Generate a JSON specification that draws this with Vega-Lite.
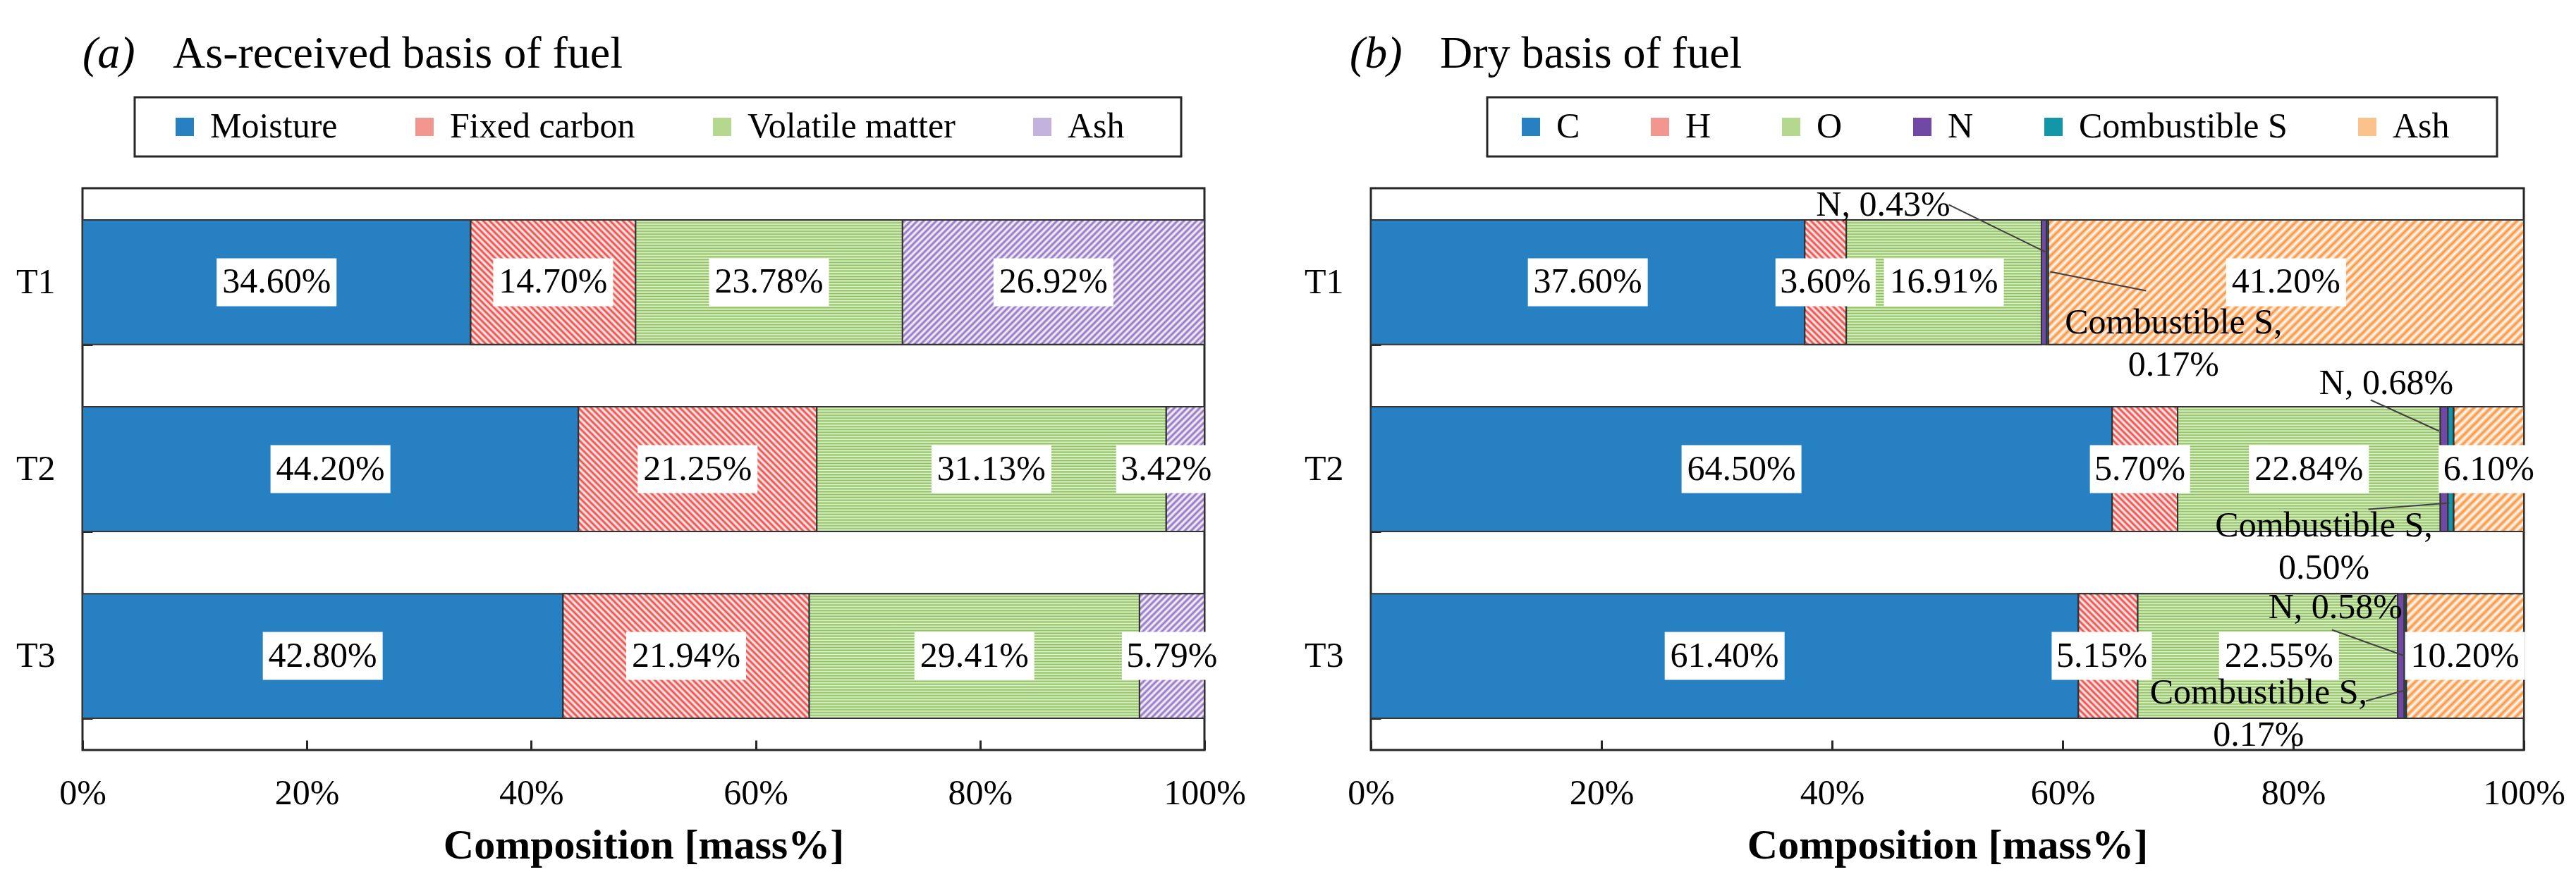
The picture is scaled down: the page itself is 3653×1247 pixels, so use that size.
{
  "$schema": "https://vega.github.io/schema/vega-lite/v6.json",
  "background": "white",
  "padding": {"left": 20, "top": 43, "right": 18, "bottom": 20},
  "params": [
    {
      "name": "stripe",
      "value": {
        "gradient": "linear", "x1": 0, "y1": 0, "x2": 0.000001, "y2": 1,
        "stops": [
          {"offset": 0, "color": "#86bf50"}, {"offset": 0.0114, "color": "#e6f2da"},
          {"offset": 0.0227, "color": "#86bf50"}, {"offset": 0.0341, "color": "#e6f2da"},
          {"offset": 0.0455, "color": "#86bf50"}, {"offset": 0.0568, "color": "#e6f2da"},
          {"offset": 0.0682, "color": "#86bf50"}, {"offset": 0.0795, "color": "#e6f2da"},
          {"offset": 0.0909, "color": "#86bf50"}, {"offset": 0.1023, "color": "#e6f2da"},
          {"offset": 0.1136, "color": "#86bf50"}, {"offset": 0.125, "color": "#e6f2da"},
          {"offset": 0.1364, "color": "#86bf50"}, {"offset": 0.1477, "color": "#e6f2da"},
          {"offset": 0.1591, "color": "#86bf50"}, {"offset": 0.1705, "color": "#e6f2da"},
          {"offset": 0.1818, "color": "#86bf50"}, {"offset": 0.1932, "color": "#e6f2da"},
          {"offset": 0.2045, "color": "#86bf50"}, {"offset": 0.2159, "color": "#e6f2da"},
          {"offset": 0.2273, "color": "#86bf50"}, {"offset": 0.2386, "color": "#e6f2da"},
          {"offset": 0.25, "color": "#86bf50"}, {"offset": 0.2614, "color": "#e6f2da"},
          {"offset": 0.2727, "color": "#86bf50"}, {"offset": 0.2841, "color": "#e6f2da"},
          {"offset": 0.2955, "color": "#86bf50"}, {"offset": 0.3068, "color": "#e6f2da"},
          {"offset": 0.3182, "color": "#86bf50"}, {"offset": 0.3295, "color": "#e6f2da"},
          {"offset": 0.3409, "color": "#86bf50"}, {"offset": 0.3523, "color": "#e6f2da"},
          {"offset": 0.3636, "color": "#86bf50"}, {"offset": 0.375, "color": "#e6f2da"},
          {"offset": 0.3864, "color": "#86bf50"}, {"offset": 0.3977, "color": "#e6f2da"},
          {"offset": 0.4091, "color": "#86bf50"}, {"offset": 0.4205, "color": "#e6f2da"},
          {"offset": 0.4318, "color": "#86bf50"}, {"offset": 0.4432, "color": "#e6f2da"},
          {"offset": 0.4545, "color": "#86bf50"}, {"offset": 0.4659, "color": "#e6f2da"},
          {"offset": 0.4773, "color": "#86bf50"}, {"offset": 0.4886, "color": "#e6f2da"},
          {"offset": 0.5, "color": "#86bf50"}, {"offset": 0.5114, "color": "#e6f2da"},
          {"offset": 0.5227, "color": "#86bf50"}, {"offset": 0.5341, "color": "#e6f2da"},
          {"offset": 0.5455, "color": "#86bf50"}, {"offset": 0.5568, "color": "#e6f2da"},
          {"offset": 0.5682, "color": "#86bf50"}, {"offset": 0.5795, "color": "#e6f2da"},
          {"offset": 0.5909, "color": "#86bf50"}, {"offset": 0.6023, "color": "#e6f2da"},
          {"offset": 0.6136, "color": "#86bf50"}, {"offset": 0.625, "color": "#e6f2da"},
          {"offset": 0.6364, "color": "#86bf50"}, {"offset": 0.6477, "color": "#e6f2da"},
          {"offset": 0.6591, "color": "#86bf50"}, {"offset": 0.6705, "color": "#e6f2da"},
          {"offset": 0.6818, "color": "#86bf50"}, {"offset": 0.6932, "color": "#e6f2da"},
          {"offset": 0.7045, "color": "#86bf50"}, {"offset": 0.7159, "color": "#e6f2da"},
          {"offset": 0.7273, "color": "#86bf50"}, {"offset": 0.7386, "color": "#e6f2da"},
          {"offset": 0.75, "color": "#86bf50"}, {"offset": 0.7614, "color": "#e6f2da"},
          {"offset": 0.7727, "color": "#86bf50"}, {"offset": 0.7841, "color": "#e6f2da"},
          {"offset": 0.7955, "color": "#86bf50"}, {"offset": 0.8068, "color": "#e6f2da"},
          {"offset": 0.8182, "color": "#86bf50"}, {"offset": 0.8295, "color": "#e6f2da"},
          {"offset": 0.8409, "color": "#86bf50"}, {"offset": 0.8523, "color": "#e6f2da"},
          {"offset": 0.8636, "color": "#86bf50"}, {"offset": 0.875, "color": "#e6f2da"},
          {"offset": 0.8864, "color": "#86bf50"}, {"offset": 0.8977, "color": "#e6f2da"},
          {"offset": 0.9091, "color": "#86bf50"}, {"offset": 0.9205, "color": "#e6f2da"},
          {"offset": 0.9318, "color": "#86bf50"}, {"offset": 0.9432, "color": "#e6f2da"},
          {"offset": 0.9545, "color": "#86bf50"}, {"offset": 0.9659, "color": "#e6f2da"},
          {"offset": 0.9773, "color": "#86bf50"}, {"offset": 0.9886, "color": "#e6f2da"},
          {"offset": 1, "color": "#86bf50"}
        ]
      }
    },
    {
      "name": "hatch",
      "value": [
        {"offset": 0, "color": "#fff"}, {"offset": 0.0069, "color": "#fff0"},
        {"offset": 0.0139, "color": "#fff"}, {"offset": 0.0208, "color": "#fff0"},
        {"offset": 0.0278, "color": "#fff"}, {"offset": 0.0347, "color": "#fff0"},
        {"offset": 0.0417, "color": "#fff"}, {"offset": 0.0486, "color": "#fff0"},
        {"offset": 0.0556, "color": "#fff"}, {"offset": 0.0625, "color": "#fff0"},
        {"offset": 0.0694, "color": "#fff"}, {"offset": 0.0764, "color": "#fff0"},
        {"offset": 0.0833, "color": "#fff"}, {"offset": 0.0903, "color": "#fff0"},
        {"offset": 0.0972, "color": "#fff"}, {"offset": 0.1042, "color": "#fff0"},
        {"offset": 0.1111, "color": "#fff"}, {"offset": 0.1181, "color": "#fff0"},
        {"offset": 0.125, "color": "#fff"}, {"offset": 0.1319, "color": "#fff0"},
        {"offset": 0.1389, "color": "#fff"}, {"offset": 0.1458, "color": "#fff0"},
        {"offset": 0.1528, "color": "#fff"}, {"offset": 0.1597, "color": "#fff0"},
        {"offset": 0.1667, "color": "#fff"}, {"offset": 0.1736, "color": "#fff0"},
        {"offset": 0.1806, "color": "#fff"}, {"offset": 0.1875, "color": "#fff0"},
        {"offset": 0.1944, "color": "#fff"}, {"offset": 0.2014, "color": "#fff0"},
        {"offset": 0.2083, "color": "#fff"}, {"offset": 0.2153, "color": "#fff0"},
        {"offset": 0.2222, "color": "#fff"}, {"offset": 0.2292, "color": "#fff0"},
        {"offset": 0.2361, "color": "#fff"}, {"offset": 0.2431, "color": "#fff0"},
        {"offset": 0.25, "color": "#fff"}, {"offset": 0.2569, "color": "#fff0"},
        {"offset": 0.2639, "color": "#fff"}, {"offset": 0.2708, "color": "#fff0"},
        {"offset": 0.2778, "color": "#fff"}, {"offset": 0.2847, "color": "#fff0"},
        {"offset": 0.2917, "color": "#fff"}, {"offset": 0.2986, "color": "#fff0"},
        {"offset": 0.3056, "color": "#fff"}, {"offset": 0.3125, "color": "#fff0"},
        {"offset": 0.3194, "color": "#fff"}, {"offset": 0.3264, "color": "#fff0"},
        {"offset": 0.3333, "color": "#fff"}, {"offset": 0.3403, "color": "#fff0"},
        {"offset": 0.3472, "color": "#fff"}, {"offset": 0.3542, "color": "#fff0"},
        {"offset": 0.3611, "color": "#fff"}, {"offset": 0.3681, "color": "#fff0"},
        {"offset": 0.375, "color": "#fff"}, {"offset": 0.3819, "color": "#fff0"},
        {"offset": 0.3889, "color": "#fff"}, {"offset": 0.3958, "color": "#fff0"},
        {"offset": 0.4028, "color": "#fff"}, {"offset": 0.4097, "color": "#fff0"},
        {"offset": 0.4167, "color": "#fff"}, {"offset": 0.4236, "color": "#fff0"},
        {"offset": 0.4306, "color": "#fff"}, {"offset": 0.4375, "color": "#fff0"},
        {"offset": 0.4444, "color": "#fff"}, {"offset": 0.4514, "color": "#fff0"},
        {"offset": 0.4583, "color": "#fff"}, {"offset": 0.4653, "color": "#fff0"},
        {"offset": 0.4722, "color": "#fff"}, {"offset": 0.4792, "color": "#fff0"},
        {"offset": 0.4861, "color": "#fff"}, {"offset": 0.4931, "color": "#fff0"},
        {"offset": 0.5, "color": "#fff"}, {"offset": 0.5069, "color": "#fff0"},
        {"offset": 0.5139, "color": "#fff"}, {"offset": 0.5208, "color": "#fff0"},
        {"offset": 0.5278, "color": "#fff"}, {"offset": 0.5347, "color": "#fff0"},
        {"offset": 0.5417, "color": "#fff"}, {"offset": 0.5486, "color": "#fff0"},
        {"offset": 0.5556, "color": "#fff"}, {"offset": 0.5625, "color": "#fff0"},
        {"offset": 0.5694, "color": "#fff"}, {"offset": 0.5764, "color": "#fff0"},
        {"offset": 0.5833, "color": "#fff"}, {"offset": 0.5903, "color": "#fff0"},
        {"offset": 0.5972, "color": "#fff"}, {"offset": 0.6042, "color": "#fff0"},
        {"offset": 0.6111, "color": "#fff"}, {"offset": 0.6181, "color": "#fff0"},
        {"offset": 0.625, "color": "#fff"}, {"offset": 0.6319, "color": "#fff0"},
        {"offset": 0.6389, "color": "#fff"}, {"offset": 0.6458, "color": "#fff0"},
        {"offset": 0.6528, "color": "#fff"}, {"offset": 0.6597, "color": "#fff0"},
        {"offset": 0.6667, "color": "#fff"}, {"offset": 0.6736, "color": "#fff0"},
        {"offset": 0.6806, "color": "#fff"}, {"offset": 0.6875, "color": "#fff0"},
        {"offset": 0.6944, "color": "#fff"}, {"offset": 0.7014, "color": "#fff0"},
        {"offset": 0.7083, "color": "#fff"}, {"offset": 0.7153, "color": "#fff0"},
        {"offset": 0.7222, "color": "#fff"}, {"offset": 0.7292, "color": "#fff0"},
        {"offset": 0.7361, "color": "#fff"}, {"offset": 0.7431, "color": "#fff0"},
        {"offset": 0.75, "color": "#fff"}, {"offset": 0.7569, "color": "#fff0"},
        {"offset": 0.7639, "color": "#fff"}, {"offset": 0.7708, "color": "#fff0"},
        {"offset": 0.7778, "color": "#fff"}, {"offset": 0.7847, "color": "#fff0"},
        {"offset": 0.7917, "color": "#fff"}, {"offset": 0.7986, "color": "#fff0"},
        {"offset": 0.8056, "color": "#fff"}, {"offset": 0.8125, "color": "#fff0"},
        {"offset": 0.8194, "color": "#fff"}, {"offset": 0.8264, "color": "#fff0"},
        {"offset": 0.8333, "color": "#fff"}, {"offset": 0.8403, "color": "#fff0"},
        {"offset": 0.8472, "color": "#fff"}, {"offset": 0.8542, "color": "#fff0"},
        {"offset": 0.8611, "color": "#fff"}, {"offset": 0.8681, "color": "#fff0"},
        {"offset": 0.875, "color": "#fff"}, {"offset": 0.8819, "color": "#fff0"},
        {"offset": 0.8889, "color": "#fff"}, {"offset": 0.8958, "color": "#fff0"},
        {"offset": 0.9028, "color": "#fff"}, {"offset": 0.9097, "color": "#fff0"},
        {"offset": 0.9167, "color": "#fff"}, {"offset": 0.9236, "color": "#fff0"},
        {"offset": 0.9306, "color": "#fff"}, {"offset": 0.9375, "color": "#fff0"},
        {"offset": 0.9444, "color": "#fff"}, {"offset": 0.9514, "color": "#fff0"},
        {"offset": 0.9583, "color": "#fff"}, {"offset": 0.9653, "color": "#fff0"},
        {"offset": 0.9722, "color": "#fff"}, {"offset": 0.9792, "color": "#fff0"},
        {"offset": 0.9861, "color": "#fff"}, {"offset": 0.9931, "color": "#fff0"},
        {"offset": 1, "color": "#fff"}
      ]
    },
    {
      "name": "swRed",
      "value": {
        "gradient": "linear", "x1": 0, "y1": 1, "x2": 1, "y2": 0,
        "stops": [
          {"offset": 0, "color": "#ffffff"}, {"offset": 0.0833, "color": "#e9423d"},
          {"offset": 0.1667, "color": "#ffffff"}, {"offset": 0.25, "color": "#e9423d"},
          {"offset": 0.3333, "color": "#ffffff"}, {"offset": 0.4167, "color": "#e9423d"},
          {"offset": 0.5, "color": "#ffffff"}, {"offset": 0.5833, "color": "#e9423d"},
          {"offset": 0.6667, "color": "#ffffff"}, {"offset": 0.75, "color": "#e9423d"},
          {"offset": 0.8333, "color": "#ffffff"}, {"offset": 0.9167, "color": "#e9423d"},
          {"offset": 1, "color": "#ffffff"}
        ]
      }
    },
    {
      "name": "swPurple",
      "value": {
        "gradient": "linear", "x1": 0, "y1": 0, "x2": 1, "y2": 1,
        "stops": [
          {"offset": 0, "color": "#ffffff"}, {"offset": 0.0833, "color": "#8d6bc1"},
          {"offset": 0.1667, "color": "#ffffff"}, {"offset": 0.25, "color": "#8d6bc1"},
          {"offset": 0.3333, "color": "#ffffff"}, {"offset": 0.4167, "color": "#8d6bc1"},
          {"offset": 0.5, "color": "#ffffff"}, {"offset": 0.5833, "color": "#8d6bc1"},
          {"offset": 0.6667, "color": "#ffffff"}, {"offset": 0.75, "color": "#8d6bc1"},
          {"offset": 0.8333, "color": "#ffffff"}, {"offset": 0.9167, "color": "#8d6bc1"},
          {"offset": 1, "color": "#ffffff"}
        ]
      }
    },
    {
      "name": "swOrange",
      "value": {
        "gradient": "linear", "x1": 0, "y1": 0, "x2": 1, "y2": 1,
        "stops": [
          {"offset": 0, "color": "#ffffff"}, {"offset": 0.125, "color": "#f7923a"},
          {"offset": 0.25, "color": "#ffffff"}, {"offset": 0.375, "color": "#f7923a"},
          {"offset": 0.5, "color": "#ffffff"}, {"offset": 0.625, "color": "#f7923a"},
          {"offset": 0.75, "color": "#ffffff"}, {"offset": 0.875, "color": "#f7923a"},
          {"offset": 1, "color": "#ffffff"}
        ]
      }
    },
    {
      "name": "swGreen",
      "value": {
        "gradient": "linear", "x1": 0, "y1": 0, "x2": 0.000001, "y2": 1,
        "stops": [
          {"offset": 0, "color": "#86bf50"}, {"offset": 0.0833, "color": "#e6f2da"},
          {"offset": 0.1667, "color": "#86bf50"}, {"offset": 0.25, "color": "#e6f2da"},
          {"offset": 0.3333, "color": "#86bf50"}, {"offset": 0.4167, "color": "#e6f2da"},
          {"offset": 0.5, "color": "#86bf50"}, {"offset": 0.5833, "color": "#e6f2da"},
          {"offset": 0.6667, "color": "#86bf50"}, {"offset": 0.75, "color": "#e6f2da"},
          {"offset": 0.8333, "color": "#86bf50"}, {"offset": 0.9167, "color": "#e6f2da"},
          {"offset": 1, "color": "#86bf50"}
        ]
      }
    }
  ],
  "datasets": {
    "asReceived": [
      {"sample": "T1", "comp": "Moisture", "value": 34.6},
      {"sample": "T1", "comp": "Fixed carbon", "value": 14.7},
      {"sample": "T1", "comp": "Volatile matter", "value": 23.78},
      {"sample": "T1", "comp": "Ash", "value": 26.92},
      {"sample": "T2", "comp": "Moisture", "value": 44.2},
      {"sample": "T2", "comp": "Fixed carbon", "value": 21.25},
      {"sample": "T2", "comp": "Volatile matter", "value": 31.13},
      {"sample": "T2", "comp": "Ash", "value": 3.42},
      {"sample": "T3", "comp": "Moisture", "value": 42.8},
      {"sample": "T3", "comp": "Fixed carbon", "value": 21.94},
      {"sample": "T3", "comp": "Volatile matter", "value": 29.41},
      {"sample": "T3", "comp": "Ash", "value": 5.79}
    ],
    "dry": [
      {"sample": "T1", "comp": "C", "value": 37.6},
      {"sample": "T1", "comp": "H", "value": 3.6},
      {"sample": "T1", "comp": "O", "value": 16.91},
      {"sample": "T1", "comp": "N", "value": 0.43},
      {"sample": "T1", "comp": "Combustible S", "value": 0.17},
      {"sample": "T1", "comp": "Ash", "value": 41.2},
      {"sample": "T2", "comp": "C", "value": 64.5},
      {"sample": "T2", "comp": "H", "value": 5.7},
      {"sample": "T2", "comp": "O", "value": 22.84},
      {"sample": "T2", "comp": "N", "value": 0.68},
      {"sample": "T2", "comp": "Combustible S", "value": 0.5},
      {"sample": "T2", "comp": "Ash", "value": 6.1},
      {"sample": "T3", "comp": "C", "value": 61.4},
      {"sample": "T3", "comp": "H", "value": 5.15},
      {"sample": "T3", "comp": "O", "value": 22.55},
      {"sample": "T3", "comp": "N", "value": 0.58},
      {"sample": "T3", "comp": "Combustible S", "value": 0.17},
      {"sample": "T3", "comp": "Ash", "value": 10.2}
    ]
  },
  "hconcat": [
    {
      "width": 1591,
      "height": 797,
      "data": {"name": "asReceived"},
      "title": {
        "text": "(a)",
        "subtitle": "\u200b\u00a0\u00a0\u00a0\u00a0\u00a0\u00a0\u00a0\u00a0As-received basis of fuel",
        "anchor": "start",
        "frame": "group",
        "font": "Liberation Serif",
        "fontSize": 64,
        "fontStyle": "italic",
        "fontWeight": "normal",
        "color": "#000000",
        "subtitleFont": "Liberation Serif",
        "subtitleFontSize": 64,
        "subtitleColor": "#000000",
        "subtitlePadding": -64,
        "offset": 28
      },
      "transform": [
        {"calculate": "indexof(['Moisture', 'Fixed carbon', 'Volatile matter', 'Ash'], datum.comp)", "as": "ord"},
        {"stack": "value", "groupby": ["sample"], "sort": [{"field": "ord", "order": "ascending"}], "offset": "normalize", "as": ["v0", "v1"]},
        {"calculate": "(datum.v0 + datum.v1) / 2", "as": "mid"},
        {"calculate": "format(datum.value, '.2f') + '%'", "as": "lbl"}
      ],
      "encoding": {
        "y": {
          "field": "sample",
          "type": "nominal",
          "scale": {"paddingInner": 0.333, "paddingOuter": 0.17},
          "axis": {"title": null, "tickBand": "extent", "tickSize": -14, "labelPadding": 53}
        }
      },
      "layer": [
        {
          "mark": {"type": "bar", "stroke": "#333333", "strokeWidth": 2},
          "encoding": {
            "x": {
              "field": "v0",
              "type": "quantitative",
              "title": "Composition [mass%]",
              "scale": {"domain": [0, 1], "nice": false},
              "axis": {
                "values": [0, 0.2, 0.4, 0.6, 0.8, 1],
                "format": ".0%",
                "tickSize": -14,
                "labelPadding": 50,
                "labelFlush": false,
                "labelOverlap": false,
                "titleFontSize": 60,
                "titleFontWeight": "bold",
                "titlePadding": 20
              }
            },
            "x2": {"field": "v1"},
            "fill": {
              "field": "comp",
              "type": "nominal",
              "scale": {
                "domain": ["Moisture", "Fixed carbon", "Volatile matter", "Ash"],
                "range": ["#2680c2", "#f2968f", "#b5d88f", "#c3b1de"]
              },
              "legend": {
                "orient": "none",
                "legendX": 74,
                "legendY": -129,
                "direction": "horizontal",
                "columns": 4,
                "columnPadding": 98,
                "title": "\u200b\u00a0\u00a0\u00a0\u00a0",
                "titleOrient": "left",
                "titlePadding": 29,
                "labelExpr": "datum.label == 'Ash' ? 'Ash\u00a0\u00a0\u00a0\u00a0\u00a0\u200b' : datum.label",
                "encode": {
                  "symbols": {
                    "update": {
                      "fill": {"signal": "datum.value == 'Fixed carbon' ? swRed : datum.value == 'Volatile matter' ? swGreen : datum.value == 'Ash' ? swPurple : '#2680c2'"}
                    }
                  }
                }
              }
            }
          }
        },
        {
          "transform": [{"filter": "datum.comp == 'Fixed carbon' || datum.comp == 'Ash'"}],
          "mark": {"type": "bar", "fill": {"expr": "datum.comp == 'Fixed carbon' ? '#e9423d' : '#8d6bc1'"}, "stroke": "#333333", "strokeWidth": 2},
          "encoding": {
            "x": {"field": "v0", "type": "quantitative", "title": "Composition [mass%]"},
            "x2": {"field": "v1"}
          }
        },
        {
          "transform": [
            {"filter": "datum.comp == 'Fixed carbon' || datum.comp == 'Ash'"},
            {"calculate": "(datum.v1 - datum.v0) * 1591", "as": "wpx"},
            {"calculate": "648 / (datum.wpx * datum.wpx + 31329)", "as": "gk"}
          ],
          "mark": {
            "type": "bar",
            "fill": {"expr": "datum.comp == 'Fixed carbon' ? {gradient: 'linear', x1: 0, y1: 1, x2: datum.gk * datum.wpx, y2: 1 - datum.gk * 177, stops: hatch} : {gradient: 'linear', x1: 0, y1: 0, x2: datum.gk * datum.wpx, y2: datum.gk * 177, stops: hatch}"},
            "stroke": "#333333",
            "strokeWidth": 2
          },
          "encoding": {
            "x": {"field": "v0", "type": "quantitative", "title": "Composition [mass%]"},
            "x2": {"field": "v1"}
          }
        },
        {
          "transform": [{"filter": "datum.comp == 'Volatile matter'"}],
          "mark": {"type": "bar", "fill": {"expr": "stripe"}, "stroke": "#333333", "strokeWidth": 2},
          "encoding": {
            "x": {"field": "v0", "type": "quantitative", "title": "Composition [mass%]"},
            "x2": {"field": "v1"}
          }
        },
        {
          "mark": {
            "type": "point",
            "filled": true,
            "color": "#ffffff",
            "opacity": 1,
            "strokeWidth": 0,
            "size": 30976,
            "xOffset": {"expr": "datum.lbl == '3.42%' ? -27 : 0"}
          },
          "encoding": {
            "x": {"field": "mid", "type": "quantitative", "title": "Composition [mass%]"},
            "shape": {
              "condition": {"test": "length(datum.lbl) == 5", "value": "M-0.807,-0.386H0.807V0.386H-0.807Z"},
              "value": "M-0.966,-0.386H0.966V0.386H-0.966Z"
            }
          }
        },
        {
          "mark": {
            "type": "text",
            "font": "Liberation Serif",
            "fontSize": 50,
            "color": "#000000",
            "baseline": "middle",
            "align": "center",
            "xOffset": {"expr": "datum.lbl == '3.42%' ? -27 : 0"}
          },
          "encoding": {
            "x": {"field": "mid", "type": "quantitative", "title": "Composition [mass%]"},
            "text": {"field": "lbl"}
          }
        }
      ]
    },
    {
      "width": 1635,
      "height": 797,
      "data": {"name": "dry"},
      "title": {
        "text": "(b)",
        "subtitle": "\u200b\u00a0\u00a0\u00a0\u00a0\u00a0\u00a0\u00a0\u00a0Dry basis of fuel",
        "anchor": "start",
        "frame": "group",
        "dx": -30,
        "font": "Liberation Serif",
        "fontSize": 64,
        "fontStyle": "italic",
        "fontWeight": "normal",
        "color": "#000000",
        "subtitleFont": "Liberation Serif",
        "subtitleFontSize": 64,
        "subtitleColor": "#000000",
        "subtitlePadding": -64,
        "offset": 28
      },
      "transform": [
        {"calculate": "indexof(['C', 'H', 'O', 'N', 'Combustible S', 'Ash'], datum.comp)", "as": "ord"},
        {"stack": "value", "groupby": ["sample"], "sort": [{"field": "ord", "order": "ascending"}], "offset": "normalize", "as": ["v0", "v1"]},
        {"calculate": "(datum.v0 + datum.v1) / 2", "as": "mid"},
        {"calculate": "format(datum.value, '.2f') + '%'", "as": "lbl"}
      ],
      "encoding": {
        "y": {
          "field": "sample",
          "type": "nominal",
          "scale": {"paddingInner": 0.333, "paddingOuter": 0.17},
          "axis": {"title": null, "tickBand": "extent", "tickSize": -14, "labelPadding": 53}
        }
      },
      "layer": [
        {
          "mark": {"type": "bar", "stroke": "#333333", "strokeWidth": 2},
          "encoding": {
            "x": {
              "field": "v0",
              "type": "quantitative",
              "title": "Composition [mass%]",
              "scale": {"domain": [0, 1], "nice": false},
              "axis": {
                "values": [0, 0.2, 0.4, 0.6, 0.8, 1],
                "format": ".0%",
                "tickSize": -14,
                "labelPadding": 50,
                "labelFlush": false,
                "labelOverlap": false,
                "titleFontSize": 60,
                "titleFontWeight": "bold",
                "titlePadding": 20
              }
            },
            "x2": {"field": "v1"},
            "fill": {
              "field": "comp",
              "type": "nominal",
              "scale": {
                "domain": ["C", "H", "O", "N", "Combustible S", "Ash"],
                "range": ["#2680c2", "#f2968f", "#b5d88f", "#7248a6", "#1396a8", "#fbc28c"]
              },
              "legend": {
                "orient": "none",
                "legendX": 165,
                "legendY": -129,
                "direction": "horizontal",
                "columns": 6,
                "columnPadding": 88,
                "title": "\u200b\u00a0\u00a0\u00a0\u00a0",
                "titleOrient": "left",
                "titlePadding": 20,
                "labelExpr": "datum.label == 'Ash' ? 'Ash\u00a0\u00a0\u00a0\u00a0\u200b' : datum.label",
                "encode": {
                  "symbols": {
                    "update": {
                      "fill": {"signal": "datum.value == 'H' ? swRed : datum.value == 'O' ? swGreen : datum.value == 'Ash' ? swOrange : datum.value == 'C' ? '#2680c2' : datum.value == 'N' ? '#7248a6' : '#1396a8'"}
                    }
                  }
                }
              }
            }
          }
        },
        {
          "transform": [{"filter": "datum.comp == 'H' || datum.comp == 'Ash'"}],
          "mark": {"type": "bar", "fill": {"expr": "datum.comp == 'H' ? '#e9423d' : '#f7923a'"}, "stroke": "#333333", "strokeWidth": 2},
          "encoding": {
            "x": {"field": "v0", "type": "quantitative", "title": "Composition [mass%]"},
            "x2": {"field": "v1"}
          }
        },
        {
          "transform": [
            {"filter": "datum.comp == 'H' || datum.comp == 'Ash'"},
            {"calculate": "(datum.v1 - datum.v0) * 1635", "as": "wpx"},
            {"calculate": "(datum.comp == 'H' ? 648 : 864) / (datum.wpx * datum.wpx + 31329)", "as": "gk"}
          ],
          "mark": {
            "type": "bar",
            "fill": {"expr": "datum.comp == 'H' ? {gradient: 'linear', x1: 0, y1: 1, x2: datum.gk * datum.wpx, y2: 1 - datum.gk * 177, stops: hatch} : {gradient: 'linear', x1: 0, y1: 0, x2: datum.gk * datum.wpx, y2: datum.gk * 177, stops: hatch}"},
            "stroke": "#333333",
            "strokeWidth": 2
          },
          "encoding": {
            "x": {"field": "v0", "type": "quantitative", "title": "Composition [mass%]"},
            "x2": {"field": "v1"}
          }
        },
        {
          "transform": [{"filter": "datum.comp == 'O'"}],
          "mark": {"type": "bar", "fill": {"expr": "stripe"}, "stroke": "#333333", "strokeWidth": 2},
          "encoding": {
            "x": {"field": "v0", "type": "quantitative", "title": "Composition [mass%]"},
            "x2": {"field": "v1"}
          }
        },
        {
          "transform": [{"filter": "datum.comp != 'N' && datum.comp != 'Combustible S'"}],
          "mark": {
            "type": "point",
            "filled": true,
            "color": "#ffffff",
            "opacity": 1,
            "strokeWidth": 0,
            "size": 30976,
            "xOffset": {"expr": "datum.lbl == '22.55%' ? 16 : datum.lbl == '5.15%' ? -9 : datum.lbl == '5.70%' ? -7 : 0"}
          },
          "encoding": {
            "x": {"field": "mid", "type": "quantitative", "title": "Composition [mass%]"},
            "shape": {
              "condition": {"test": "length(datum.lbl) == 5", "value": "M-0.807,-0.386H0.807V0.386H-0.807Z"},
              "value": "M-0.966,-0.386H0.966V0.386H-0.966Z"
            }
          }
        },
        {
          "transform": [{"filter": "datum.comp != 'N' && datum.comp != 'Combustible S'"}],
          "mark": {
            "type": "text",
            "font": "Liberation Serif",
            "fontSize": 50,
            "color": "#000000",
            "baseline": "middle",
            "align": "center",
            "xOffset": {"expr": "datum.lbl == '22.55%' ? 16 : datum.lbl == '5.15%' ? -9 : datum.lbl == '5.70%' ? -7 : 0"}
          },
          "encoding": {
            "x": {"field": "mid", "type": "quantitative", "title": "Composition [mass%]"},
            "text": {"field": "lbl"}
          }
        },
        {
          "transform": [{"filter": "datum.comp == 'N' || datum.comp == 'Combustible S'"}],
          "mark": {
            "type": "rule",
            "color": "#404040",
            "strokeWidth": 2,
            "xOffset": {"expr": "datum.comp == 'N' ? (datum.sample == 'T1' ? -135 : datum.sample == 'T2' ? -104 : -98) : (datum.sample == 'T1' ? 4 : datum.sample == 'T2' ? -117 : -56)"},
            "yOffset": {"expr": "datum.comp == 'N' ? (datum.sample == 'T1' ? -110 : datum.sample == 'T2' ? -98 : -37) : (datum.sample == 'T1' ? -15 : datum.sample == 'T2' ? 57 : 64)"},
            "x2Offset": {"expr": "datum.comp == 'N' ? (datum.sample == 'T1' ? 2 : datum.sample == 'T2' ? -7 : 5) : (datum.sample == 'T1' ? 140 : datum.sample == 'T2' ? -2 : -1)"},
            "y2Offset": {"expr": "datum.comp == 'N' ? (datum.sample == 'T1' ? -43 : datum.sample == 'T2' ? -54 : 0) : (datum.sample == 'T1' ? 12 : datum.sample == 'T2' ? 48 : 49)"}
          },
          "encoding": {
            "x": {"field": "mid", "type": "quantitative", "title": "Composition [mass%]"},
            "x2": {"field": "mid"},
            "y2": {"field": "sample"}
          }
        },
        {
          "transform": [
            {"filter": "datum.comp == 'N' || datum.comp == 'Combustible S'"},
            {"calculate": "(datum.comp == 'N' ? 'N, ' : 'Combustible S,\\n') + datum.lbl", "as": "lead"}
          ],
          "mark": {
            "type": "text",
            "font": "Liberation Serif",
            "fontSize": 50,
            "color": "#000000",
            "baseline": "alphabetic",
            "align": "center",
            "lineBreak": "\n",
            "lineHeight": 60,
            "dx": {"expr": "datum.comp == 'N' ? (datum.sample == 'T1' ? -228 : datum.sample == 'T2' ? -82 : -93) : (datum.sample == 'T1' ? 179 : datum.sample == 'T2' ? -180 : -208)"},
            "dy": {"expr": "datum.comp == 'N' ? (datum.sample == 'T1' ? -94 : datum.sample == 'T2' ? -107 : -54) : (datum.sample == 'T1' ? 73 : datum.sample == 'T2' ? 95 : 67)"}
          },
          "encoding": {
            "x": {"field": "mid", "type": "quantitative", "title": "Composition [mass%]"},
            "text": {"field": "lead"}
          }
        }
      ]
    }
  ],
  "spacing": 236,
  "bounds": "flush",
  "resolve": {
    "scale": {"fill": "independent", "x": "independent", "y": "independent"},
    "legend": {"fill": "independent"}
  },
  "config": {
    "font": "Liberation Serif",
    "view": {"stroke": "#262626", "strokeWidth": 3},
    "axis": {
      "labelFont": "Liberation Serif",
      "labelFontSize": 50,
      "labelColor": "#000000",
      "tickColor": "#262626",
      "tickWidth": 3,
      "domain": false,
      "grid": false,
      "titleFont": "Liberation Serif",
      "titleColor": "#000000"
    },
    "legend": {
      "labelFont": "Liberation Serif",
      "labelFontSize": 50,
      "labelColor": "#000000",
      "labelLimit": 0,
      "labelOffset": 11,
      "symbolType": "square",
      "symbolSize": 676,
      "symbolStrokeColor": "#404040",
      "symbolStrokeWidth": 1.5,
      "padding": 17,
      "strokeColor": "#262626",
      "strokeWidth": 3,
      "titleFont": "Liberation Serif",
      "titleFontSize": 50,
      "rowPadding": 0
    }
  }
}
